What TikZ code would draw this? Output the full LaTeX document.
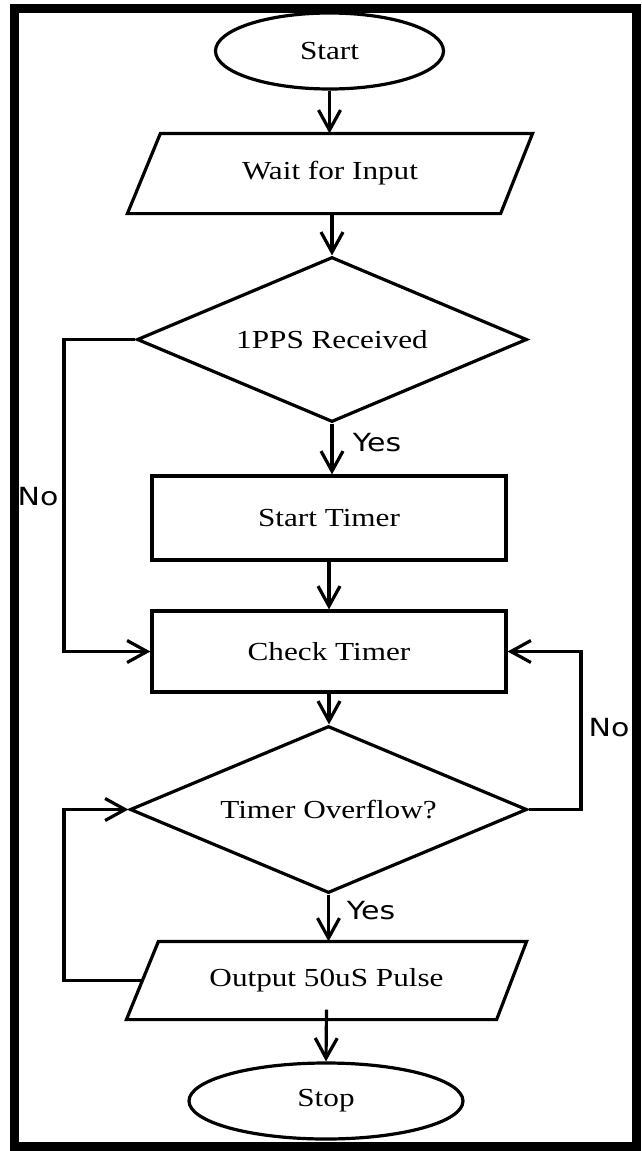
\documentclass[tikz,border=0pt]{standalone}
\usepackage{fontspec}
\setmainfont{Liberation Serif}[FakeStretch=1.2]
\newfontfamily\labfont{DejaVu Sans}[FakeStretch=1.2]
\usetikzlibrary{shapes.geometric,arrows.meta,calc}
\begin{document}
\begin{tikzpicture}[x=1pt,y=-1pt,
  line width=3.2pt,
  txt/.style={font=\fontsize{26}{30}\selectfont},
  term/.style={txt,ellipse,draw,inner sep=0pt},
  proc/.style={txt,rectangle,draw,inner sep=0pt},
  io/.style={txt,rectangle,inner sep=0pt},
  dec/.style={txt,diamond,draw,inner sep=0pt,aspect=2.37},
  lab/.style={font=\labfont\fontsize{25}{30}\selectfont,inner sep=0pt},
  arr/.style={-{Straight Barb[length=20pt,width=22pt]}}]
\useasboundingbox (0,0) rectangle (641,1151);
\fill[white] (0,0) rectangle (641,1151);
\draw[line width=9pt] (14,8) rectangle (636.5,1146.5);

\node[term,minimum width=228pt,minimum height=76pt] (start) at (329.5,51) {Start};
\node[io,minimum width=402pt,minimum height=77pt] (wait) at (330,173.5) {Wait for Input};
\draw ([xshift=33pt]wait.north west) -- (wait.north east) -- ([xshift=-32pt]wait.south east) -- (wait.south west) -- cycle;
\node[dec,minimum width=390pt,minimum height=165pt] (pps) at (332,339.5) {1PPS Received};
\node[proc,minimum width=354pt,minimum height=84pt] (st) at (329,518) {Start Timer};
\node[proc,minimum width=354pt,minimum height=81pt] (ct) at (329,651.5) {Check Timer};
\node[dec,minimum width=397pt,minimum height=167pt] (ov) at (328.5,809.5) {Timer Overflow?};
\node[io,minimum width=397pt,minimum height=75pt] (out) at (326.5,980.5) {Output 50uS Pulse};
\draw ([xshift=32pt]out.north west) -- (out.north east) -- ([xshift=-30pt]out.south east) -- (out.south west) -- cycle;
\node[term,minimum width=274pt,minimum height=76pt] (stop) at (326,1101) {Stop};

\node[lab] (y1) at (377,443) {Yes};
\node[lab] (y2) at (371,911) {Yes};
\node[lab] (n1) at (38,497) {No};
\node[lab] (n2) at (609,728) {No};

\coordinate (lx) at (64,0);
\coordinate (rx) at (581,0);

\draw[arr] (start.south) -- (start.south |- wait.north);
\draw[arr] (pps.north |- wait.south) -- (pps.north);
\draw[arr] (pps.south) -- (pps.south |- st.north);
\draw[arr] (st.south) -- (ct.north);
\draw[arr] (ct.south) -- (ct.south |- ov.north);
\draw[arr] (ov.south) -- (ov.south |- out.north);
\draw[arr] ([yshift=10pt]out.south) -- (stop.north);
\draw[arr] (pps.west) -- (pps.west -| lx) |- (ct.west);
\draw[arr] (ov.east) -- (ov.east -| rx) |- (ct.east);
\draw[arr] ([xshift=16pt]out.west) -- (out.west -| lx) |- (ov.west);
\end{tikzpicture}
\end{document}
